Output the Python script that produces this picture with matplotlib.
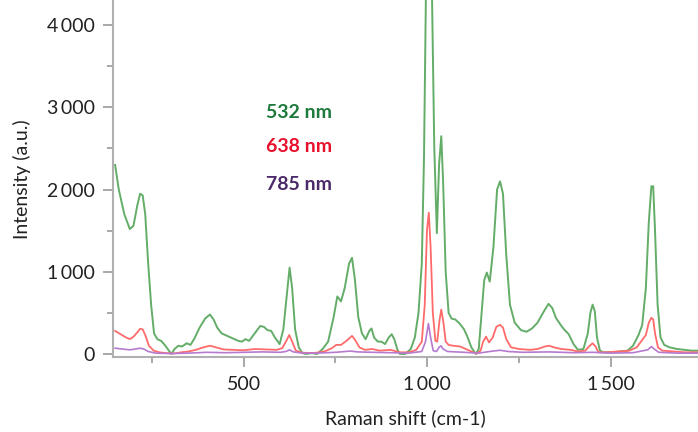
import matplotlib
matplotlib.use('Agg')
import matplotlib.pyplot as plt
from matplotlib.ticker import FuncFormatter, MultipleLocator

plt.rcParams['font.family'] = ['Lato', 'DejaVu Sans']

# Raman spectra at three excitation wavelengths (shift in cm-1, intensity in a.u.)
shift_532 = [150, 160, 175, 190, 200, 210, 218, 225, 232, 240, 248, 256, 265, 275, 285,
             295, 303, 312, 322, 332, 345, 355, 365, 380, 395, 408, 418, 428, 440, 455,
             470, 485, 495, 505, 515, 530, 545, 555, 565, 575, 585, 598, 608, 617, 625,
             632, 640, 650, 660, 670, 685, 700, 715, 730, 745, 755, 765, 775, 787, 795,
             803, 812, 822, 832, 842, 848, 855, 865, 875, 885, 895, 903, 910, 918, 925,
             940, 955, 966, 976, 985, 991, 996, 1004, 1013, 1019, 1026, 1032, 1038, 1043,
             1050, 1058, 1066, 1076, 1088, 1100, 1110, 1120, 1132, 1140, 1148, 1155, 1162,
             1170, 1180, 1190, 1198, 1206, 1215, 1225, 1238, 1255, 1270, 1285, 1300, 1315,
             1330, 1340, 1350, 1362, 1372, 1385, 1398, 1410, 1425, 1437, 1444, 1450, 1456,
             1462, 1470, 1480, 1500, 1525, 1545, 1560, 1575, 1585, 1595, 1603, 1610, 1615,
             1620, 1627, 1635, 1645, 1660, 1680, 1700, 1720, 1737]
int_532 = [2300, 2000, 1700, 1520, 1560, 1800, 1950, 1930, 1700, 1100, 600, 250, 180, 160, 110,
           50, 0, 60, 100, 90, 130, 110, 180, 320, 430, 480, 420, 320, 250, 220,
           190, 160, 150, 180, 160, 250, 340, 330, 290, 280, 200, 120, 300, 700, 1050,
           800, 300, 80, 10, 0, 10, 0, 60, 150, 450, 700, 640, 800, 1100, 1170,
           900, 450, 250, 180, 280, 310, 200, 150, 150, 120, 200, 240, 180, 60, 0,
           0, 60, 200, 500, 1100, 2400, 4300, 6500, 4300, 2500, 1470, 2300, 2650, 2100,
           1000, 500, 430, 420, 370, 300, 200, 80, 0, 60, 500, 900, 990,
           880, 1300, 2000, 2100, 1950, 1200, 600, 380, 290, 270, 310, 380, 500,
           610, 560, 440, 360, 300, 240, 120, 50, 60, 250, 500, 600, 520,
           200, 40, 20, 20, 30, 40, 100, 230, 350, 800, 1600, 2040, 2040,
           1500, 600, 200, 110, 80, 60, 50, 40, 40]

shift_638 = [150, 165, 180, 190, 200, 210, 218, 225, 232, 242, 255, 270, 290, 310, 330,
             350, 370, 390, 408, 425, 445, 470, 500, 530, 560, 590, 605, 615, 624, 632,
             642, 660, 690, 720, 740, 752, 765, 780, 795, 805, 815, 830, 850, 870, 900,
             925, 950, 970, 985, 993, 999, 1004, 1009, 1015, 1022, 1027, 1033, 1038, 1044,
             1050, 1058, 1070, 1090, 1110, 1125, 1135, 1145, 1152, 1160, 1168, 1178, 1188,
             1198, 1206, 1215, 1228, 1250, 1280, 1300, 1320, 1332, 1345, 1365, 1390, 1410,
             1430, 1440, 1450, 1458, 1466, 1490, 1520, 1550, 1570, 1585, 1595, 1603, 1610,
             1615, 1620, 1628, 1640, 1670, 1700, 1737]
int_638 = [280, 240, 200, 180, 210, 260, 305, 300, 230, 100, 40, 20, 10, 5, 20,
           30, 50, 80, 100, 80, 55, 50, 45, 60, 55, 50, 70, 150, 230, 150,
           40, 15, 10, 30, 70, 110, 110, 160, 220, 160, 80, 50, 60, 40, 50,
           20, 20, 50, 150, 600, 1500, 1720, 1300, 500, 160, 150, 400, 540, 380,
           150, 110, 100, 90, 50, 20, 5, 40, 150, 210, 140, 200, 330,
           355, 320, 180, 80, 60, 50, 60, 90, 100, 80, 60, 50, 30,
           40, 90, 130, 90, 20, 20, 30, 40, 80, 170, 230, 380, 440,
           420, 250, 80, 40, 30, 20, 20]

shift_785 = [150, 170, 190, 205, 218, 228, 240, 260, 300, 350, 400, 450, 500, 550, 600,
             615, 625, 635, 660, 700, 750, 790, 810, 850, 900, 950, 985, 995, 1003, 1009,
             1016, 1025, 1032, 1037, 1043, 1055, 1100, 1140, 1170, 1198, 1220, 1260, 1330,
             1400, 1450, 1500, 1560, 1600, 1610, 1618, 1630, 1680, 1737]
int_785 = [70, 60, 50, 60, 70, 60, 30, 10, 5, 10, 20, 15, 20, 25, 20,
           30, 50, 25, 10, 10, 20, 35, 25, 20, 15, 10, 30, 150, 370, 200,
           40, 30, 80, 100, 60, 30, 20, 10, 30, 45, 30, 20, 25,
           15, 20, 10, 15, 50, 90, 60, 20, 10, 10]

labels = ['532 nm', '638 nm', '785 nm']
label_y = [0.684, 0.589, 0.483]
line_colors = ['#63ad68', '#ff6b6b', '#b67ad0']
text_colors = ['#1d7a3c', '#e8112d', '#4a2a68']

fig = plt.figure(figsize=(6.98, 4.32), dpi=100)
ax = fig.add_axes([0.1623, 0.1725, 0.8377, 0.8275])

ax.plot(shift_532, int_532, color=line_colors[0], lw=1.4)
ax.plot(shift_638, int_638, color=line_colors[1], lw=1.3)
ax.plot(shift_785, int_785, color=line_colors[2], lw=1.2)

ax.set_xlim(145, 1737)
ax.set_ylim(-43, 4307)

ax.xaxis.set_major_locator(MultipleLocator(500))
ax.xaxis.set_minor_locator(MultipleLocator(250))
ax.yaxis.set_major_locator(MultipleLocator(1000))
ax.yaxis.set_minor_locator(MultipleLocator(500))

fmt = FuncFormatter(lambda v, p: f'{int(v):,}'.replace(',', '\u2009'))
ax.xaxis.set_major_formatter(fmt)
ax.yaxis.set_major_formatter(fmt)

for side in ['top', 'right']:
    ax.spines[side].set_visible(False)
for side in ['left', 'bottom']:
    ax.spines[side].set_color('#b0b0b0')
    ax.spines[side].set_linewidth(1.5)

ax.tick_params(which='both', direction='out', color='#9a9a9a', width=1.2)
ax.tick_params(which='major', length=7, labelsize=14, labelcolor='#222222', pad=6)
ax.tick_params(which='minor', length=4)

ax.set_xlabel('Raman shift (cm-1)', fontsize=14, color='#222222', labelpad=12)
ax.set_ylabel('Intensity (a.u.)', fontsize=14, color='#222222', labelpad=12)

for lab, c, yy in zip(labels, text_colors, label_y):
    ax.text(0.261, yy, lab, transform=ax.transAxes, color=c,
            fontsize=14, fontweight='bold', va='center', ha='left')

fig.savefig('out.png', dpi=100)
